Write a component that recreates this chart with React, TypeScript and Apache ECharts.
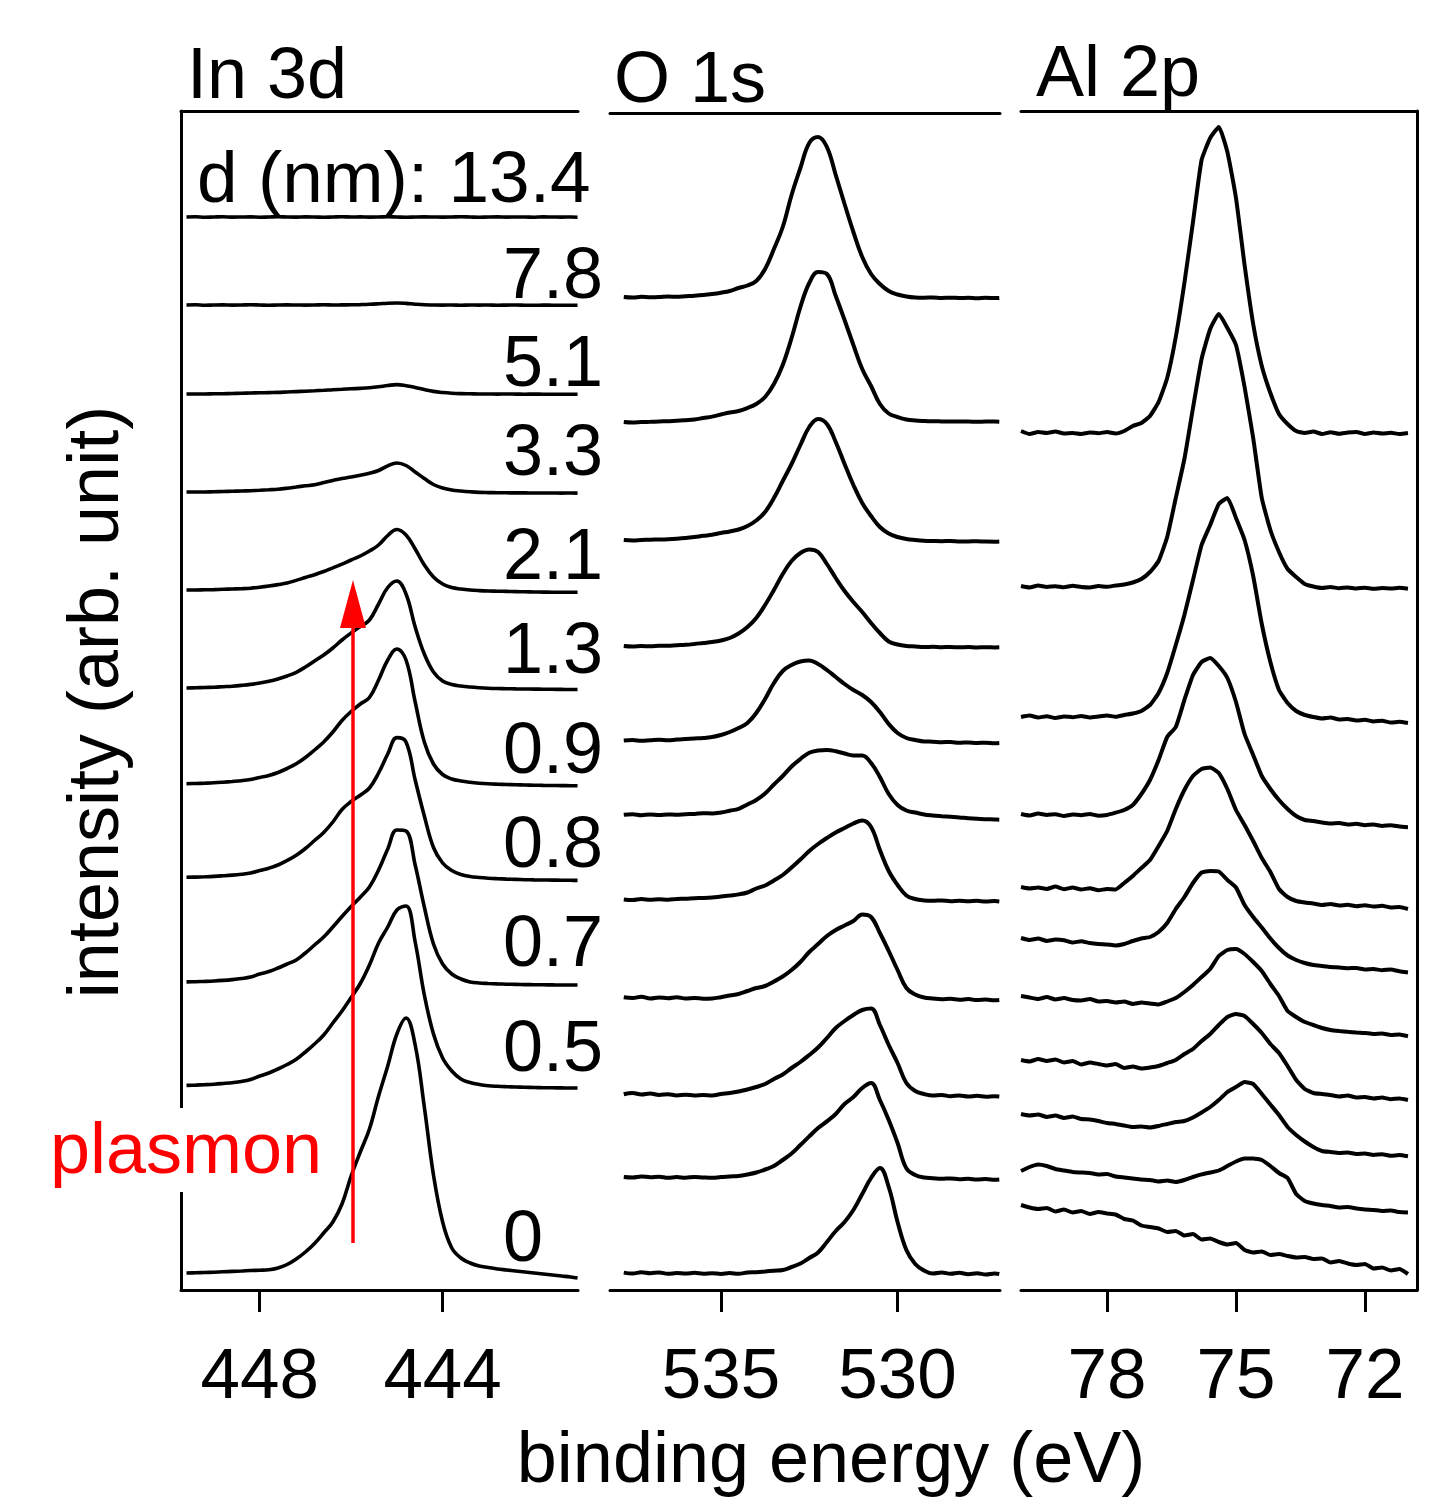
import React, { useEffect, useRef } from "react";
import * as echarts from "echarts";

const FONT = '"Liberation Sans", Arial, Helvetica, sans-serif';

// ---------- In 3d (binding energy, eV) ----------
const in3dEnergy = [
  449.6, 449.4, 449.2, 449.0, 448.8, 448.6, 448.4, 448.2, 448.0, 447.8, 447.6,
  447.4, 447.2, 447.0, 446.8, 446.6, 446.4, 446.2, 446.0, 445.8, 445.6, 445.4,
  445.2, 445.0, 444.8, 444.6, 444.4, 444.2, 444.0, 443.8, 443.6, 443.4, 443.2,
  443.0, 442.8, 442.6, 442.4, 442.2, 442.0, 441.8, 441.6, 441.4, 441.2, 441.05,
];
const in3d_13_4 = [
  1073, 1073.3, 1072.8, 1073, 1073.2, 1072.9, 1073, 1073.1, 1072.8, 1073, 1073.2,
  1073, 1072.9, 1073.1, 1073, 1072.8, 1073, 1073.2, 1073, 1073.1, 1072.9, 1073,
  1073.2, 1073, 1072.8, 1073, 1073.1, 1073, 1072.9, 1073, 1073.2, 1073, 1072.8,
  1073, 1073.1, 1072.9, 1073, 1073, 1072.8, 1073.1, 1073, 1072.9, 1073, 1072.8,
];
const in3d_7_8 = [
  985, 985.2, 984.8, 985, 985.1, 984.9, 985, 985.2, 985, 984.8, 985,
  985.1, 985, 984.9, 985, 985.2, 985, 985.1, 985.2, 985.4, 985.7, 986.2,
  986.8, 987, 986.6, 985.8, 985.2, 985, 984.9, 985, 984.8, 985, 984.9,
  985, 984.8, 984.9, 985, 984.8, 984.7, 984.9, 984.8, 984.7, 984.8, 984.7,
];
const in3d_5_1 = [
  896, 896, 896, 896.2, 896.3, 896.5, 896.7, 897, 897.2, 897.4, 897.6,
  898, 898.4, 898.8, 899.2, 899.7, 900.3, 900.7, 901.2, 901.6, 902.2, 903.2,
  904.5, 905.4, 904.3, 902.5, 900.4, 898.6, 897.5, 896.8, 896.4, 896.2, 896,
  896, 895.9, 896, 895.9, 895.8, 895.9, 895.8, 895.8, 895.7, 895.8, 895.7,
];
const in3d_3_3 = [
  798, 798, 798, 798.3, 798.5, 798.7, 799, 799.3, 799.7, 800.2, 800.8,
  801.8, 803, 804.2, 805.3, 807.5, 809.6, 811.5, 813, 814.8, 816.8, 819.5,
  824.2, 827, 824.5, 818, 811.5, 805.5, 802, 800, 799, 798.2, 797.6,
  797.4, 797.3, 797.2, 797.1, 797.1, 797, 797, 797, 796.9, 797, 796.9,
];
const in3d_2_1 = [
  700, 700, 700.2, 700.4, 700.7, 701, 701.3, 701.8, 702.8, 704, 705.4,
  707, 709.6, 712.5, 715.2, 718.5, 722.2, 725.8, 730, 734, 739, 745,
  754.5, 760.5, 755, 741, 725, 713, 706, 702.5, 701, 700, 699.4,
  699, 698.8, 698.6, 698.4, 698.2, 698, 697.9, 697.8, 697.8, 697.7, 697.7,
];
const in3d_1_3 = [
  602, 602.2, 602.5, 602.8, 603.3, 603.8, 604.6, 605.6, 607, 608.7, 611,
  614, 617.7, 623, 629, 635, 642, 650, 657, 663.5, 670, 686,
  702.5, 709, 696, 663, 636, 618, 609, 605.5, 604, 603, 602.3,
  601.8, 601.5, 601.3, 601.1, 601, 600.9, 600.8, 600.7, 600.6, 600.5, 600.5,
];
const in3d_0_9 = [
  506.3, 506.5, 506.8, 507.2, 507.8, 508.5, 509.3, 510.5, 512.5, 514.5, 517.5,
  521.5, 526.2, 532.5, 540, 548, 558, 569.5, 578.5, 586, 592.5, 610,
  630, 641, 630, 588, 548, 526, 515.5, 511, 509, 507.7, 506.8,
  506.2, 505.8, 505.5, 505.2, 505, 504.8, 504.6, 504.5, 504.4, 504.3, 504.2,
];
const in3d_0_8 = [
  412.7, 412.9, 413.2, 413.6, 414.2, 414.9, 415.8, 417, 419.4, 421.8, 425,
  429.5, 434.7, 441.5, 449.5, 457.5, 468, 480.5, 488.5, 494.8, 502, 517,
  536, 552.4, 548, 510, 474, 442.5, 427, 419.5, 415.5, 413.5, 412.5,
  411.8, 411.3, 410.9, 410.6, 410.3, 410.1, 410, 409.9, 409.8, 409.7, 409.6,
];
const in3d_0_7 = [
  308.1, 308.3, 308.6, 309, 309.6, 310.4, 311.5, 313, 316, 318.5, 322,
  326, 330, 337, 345, 353, 363, 373.5, 383.5, 392.8, 403, 420,
  441, 460, 459, 425, 383, 346, 326, 316, 311, 308.1, 307,
  306.5, 306.1, 305.8, 305.6, 305.4, 305.3, 305.2, 305.1, 305, 305, 305,
];
const in3d_0_5 = [
  204.6, 204.9, 205.3, 205.8, 206.5, 207.3, 208.5, 210.5, 214, 217, 221,
  225.5, 230.7, 238, 246, 255, 267, 279, 292.5, 306.5, 325, 347,
  363, 380, 384, 348, 295, 256, 232, 219, 211, 207.5, 205.5,
  204.3, 203.7, 203.3, 203, 202.7, 202.5, 202.3, 202.2, 202.1, 202, 202,
];
const in3d_0 = [
  17, 17.2, 17.5, 17.8, 18.2, 18.6, 19, 19.5, 19.8, 20.2, 22,
  25.5, 31, 38, 46.5, 57, 68, 86, 114, 138, 161, 194,
  224, 256, 272, 245, 183, 115, 68, 42, 32, 27, 24,
  22.5, 21, 20, 19, 18, 17, 16, 15, 14, 13, 12,
];

// ---------- O 1s ----------
const o1sEnergy = [
  537.75, 537.5, 537.25, 537.0, 536.75, 536.5, 536.25, 536.0, 535.75, 535.5, 535.25,
  535.0, 534.75, 534.5, 534.25, 534.0, 533.75, 533.5, 533.25, 533.0, 532.75, 532.5,
  532.25, 532.0, 531.75, 531.5, 531.25, 531.0, 530.75, 530.5, 530.25, 530.0, 529.75,
  529.5, 529.25, 529.0, 528.75, 528.5, 528.25, 528.0, 527.75, 527.5, 527.25, 527.12,
];
const o1s_13_4 = [
  993, 992.5, 993.2, 992.8, 993, 993.5, 993.2, 993.8, 994.3, 995, 996,
  997.3, 999, 1002, 1004.5, 1009, 1021, 1041, 1063, 1095, 1122, 1147,
  1153, 1143, 1115, 1086, 1058, 1033, 1016, 1006, 999, 995.5, 993.5,
  992.5, 992.3, 992.5, 992, 992.3, 992, 992.2, 991.8, 992.3, 991.9, 992.1,
];
const o1s_7_8 = [
  868, 867.5, 868, 868.2, 868.5, 868.8, 869.2, 869.8, 870.5, 872, 873.4,
  875.5, 877.5, 879, 882, 886, 893, 906, 925, 952, 983, 1007,
  1018, 1016, 994, 970, 945, 921, 904, 886, 876.5, 873, 870.5,
  869.5, 869, 868.7, 868.6, 868.5, 868.4, 868.4, 868.3, 868.4, 868.4, 868.3,
];
const o1s_5_1 = [
  750, 749.6, 750, 750.3, 750.5, 750.8, 751.3, 752, 753, 754.2, 755.2,
  757, 758.5, 760.5, 764, 769.5, 778, 792, 809, 826, 845, 863,
  871, 866, 848, 826, 805, 787, 774, 763, 756.5, 753, 751,
  750, 749.3, 749, 748.8, 749, 748.6, 748.5, 748.8, 748.4, 748.3, 748.5,
];
const o1s_3_3 = [
  644, 643.5, 644, 643.7, 644.2, 644.3, 644.8, 645.2, 646, 647, 648,
  649.5, 652, 656.5, 663, 672, 685, 700, 716, 729, 737, 740.5,
  738, 726, 712, 699, 688, 678, 667, 657, 648.5, 645.5, 644,
  643.5, 643, 643.2, 642.8, 643, 642.7, 642.9, 642.5, 642.8, 642.6, 642.7,
];
const o1s_2_1 = [
  549.5, 550, 549.2, 549.8, 550.3, 549.7, 550.5, 551, 551.5, 552, 553,
  555, 558, 562, 567, 577, 591, 607, 619, 625, 628.5, 629.5,
  626, 620, 613, 606, 600, 595, 588, 578, 566, 557, 552,
  550, 548.5, 548.3, 547.8, 548, 547.2, 547.6, 547, 547.3, 546.8, 547,
];
const o1s_1_3 = [
  475.3, 475.8, 474.8, 475.5, 475, 475.6, 475.2, 475.8, 476, 476.8, 476.5,
  477.5, 479.3, 481.2, 485.5, 490, 496.5, 505.5, 514, 523.5, 531, 537.3,
  539.5, 540, 538.8, 536.5, 534.6, 534.5, 527, 513, 496, 485, 479.5,
  477.5, 475.5, 474.5, 473.8, 473.2, 472.6, 471.8, 471.2, 470.8, 470.5, 470.3,
];
const o1s_0_9 = [
  390.6, 390, 391, 390.2, 390.8, 390.3, 391, 391.3, 391.8, 392, 392.5,
  393.5, 394.5, 395.6, 397.5, 401.5, 404.5, 409.5, 415, 422.5, 430.5, 439,
  446, 452, 457.5, 462, 466.5, 469.5, 463, 440, 419, 405, 394.5,
  391, 389.6, 389.2, 389.6, 388.8, 389.3, 388.7, 389.2, 388.5, 388.9, 388.6,
];
const o1s_0_8 = [
  292.8, 292, 293.3, 291.5, 292.5, 291.8, 292.8, 291.4, 292, 291.3, 291.5,
  292.8, 294.5, 296, 299, 302, 304, 308.5, 313.5, 320, 328, 338,
  346, 354, 360, 364.5, 369, 375.6, 373, 357, 339, 320, 302,
  295.5, 292.5, 291.5, 290.8, 291.2, 290.3, 290.9, 289.9, 290.4, 289.8, 290.1,
];
const o1s_0_7 = [
  195.7, 197, 195.5, 196.5, 195, 195.8, 194.6, 195.3, 194.5, 195, 194.5,
  196, 197, 198.5, 200.5, 203, 206, 211, 215.5, 222, 228, 235,
  242.5, 252, 262, 269, 275, 280, 281.5, 265, 245, 227, 207,
  199, 196, 194.5, 195, 193.8, 194.5, 193.5, 194.2, 193.3, 193.8, 193.5,
];
const o1s_0_5 = [
  113, 112.5, 113.5, 112.8, 113.3, 112.2, 112.9, 112.3, 113, 112.5, 112.2,
  113, 113.5, 114, 115.5, 117.5, 120.5, 124, 130, 136.5, 145, 153.6,
  162, 168.6, 176, 186, 193, 202, 207, 190, 170, 147, 121.6,
  115, 112.5, 111.8, 111.2, 111.6, 110.8, 111.2, 110.4, 110.9, 110.3, 110.6,
];
const o1s_0 = [
  17.4, 16.5, 17.8, 16.8, 17.5, 16.2, 17, 16.4, 17.2, 16.3, 16.8,
  16, 16.9, 16.2, 17.5, 17.8, 18.5, 19.3, 20, 23, 26.5, 32,
  37.5, 48, 59, 68, 80, 96, 112, 122, 103, 68, 40,
  26, 19.5, 16.5, 17.5, 16.2, 17.2, 15.8, 16.7, 15.5, 16.5, 16,
];

// ---------- Al 2p ----------
const al2pEnergy = [
  80.0, 79.8, 79.6, 79.4, 79.2, 79.0, 78.8, 78.6, 78.4, 78.2, 78.0,
  77.8, 77.6, 77.4, 77.2, 77.0, 76.8, 76.6, 76.4, 76.2, 76.0, 75.8,
  75.6, 75.4, 75.2, 75.0, 74.8, 74.6, 74.4, 74.2, 74.0, 73.8, 73.6,
  73.4, 73.2, 73.0, 72.8, 72.6, 72.4, 72.2, 72.0, 71.8, 71.6, 71.4, 71.2, 71.0,
];
const al2p_13_4 = [
  859, 856, 858, 857, 858.5, 856.5, 857, 856, 857.5, 856.8, 858,
  856.5, 859, 864, 867, 874, 888, 912, 953, 1007, 1068, 1130,
  1152, 1163, 1138, 1092, 1025, 966, 924, 897, 876, 866, 859,
  857, 858.5, 856, 857.8, 856.2, 857.5, 858, 856, 857.5, 856.5, 857.2, 856, 857,
];
const al2p_7_8 = [
  704, 702.5, 704.5, 703, 703.8, 702.7, 704.2, 703, 702.5, 704, 703.2,
  704.5, 705.5, 707.5, 711, 718, 729, 753, 792, 831, 882, 931,
  961, 976, 962, 945, 903, 852, 792, 760, 738, 721, 713,
  706, 703.5, 702, 703, 701.8, 702.6, 701.5, 702.3, 701.2, 702, 701.5, 702.2, 701.3,
];
const al2p_5_1 = [
  573, 574.5, 572.5, 573.8, 572, 573.5, 572.8, 574, 572.5, 573.5, 574.5,
  573.2, 575, 576.5, 579, 585, 597, 617, 645, 675, 710, 745,
  765, 786, 792, 772, 750, 714, 666, 628, 600, 587, 579,
  575, 573, 571.5, 572.5, 570.5, 571, 569.5, 570.2, 568.5, 569.3, 567.5, 568.2, 567,
];
const al2p_3_3 = [
  476, 474.5, 476.5, 475, 475.8, 474, 475.5, 474.8, 476, 474.3, 475,
  477.3, 480, 485, 496, 510, 530, 553, 563, 590, 615, 628,
  632, 624, 612, 588, 556, 535, 514, 501, 490, 481, 474,
  470, 469, 467.5, 466.5, 467, 465.5, 466.2, 464.8, 465.5, 464, 464.8, 463.5, 462.8,
];
const al2p_2_1 = [
  403, 401.5, 402.5, 401, 403.5, 400.8, 402.5, 400.5, 401.8, 399.8, 401,
  400.5, 407, 414, 422, 430, 444, 459, 481, 500, 514, 521,
  522.5, 517, 501, 480, 465, 449, 432, 418, 401, 393, 389,
  387.5, 386.5, 385, 386, 384.5, 385.2, 383.8, 384.8, 383.5, 384.2, 382.5, 383, 381,
];
const al2p_1_3 = [
  352, 350, 351.5, 349, 350.5, 349.8, 347.5, 348.8, 347, 346, 345.5,
  344.5, 346, 349, 351.5, 353, 358, 367, 381, 393, 407, 417.5,
  419, 418.5, 410, 402.5, 385, 373, 362.5, 351.5, 342, 334.5, 330,
  327, 325, 324, 323, 322.5, 321.8, 322, 320.5, 321, 319.8, 320.5, 318.8, 317.5,
];
const al2p_0_9 = [
  294, 292.5, 291, 293, 290.5, 292, 290, 289.5, 291, 288.5, 289,
  287.5, 288.5, 286, 287.5, 286.5, 285.5, 288.5, 292, 298, 305, 313,
  321, 334, 340, 341, 336, 328, 319, 306, 294, 279, 273,
  268, 265, 262, 260, 259, 258.2, 257.5, 257, 256, 256.5, 255, 255.5, 253.8,
];
const al2p_0_8 = [
  230, 228.5, 231, 229, 230.5, 227.5, 229, 225.5, 227.5, 226, 224.5,
  226, 222, 223.5, 221.5, 222.5, 224, 227, 230, 236, 241, 249,
  256, 265, 273, 276, 274, 266, 257, 246, 237, 224, 210,
  201, 197, 196, 195, 193.5, 194.5, 192.5, 193, 191.5, 192.5, 190.8, 191.5, 190,
];
const al2p_0_7 = [
  176, 174.5, 175.5, 173, 174.5, 172, 173.5, 171, 170.5, 169, 167,
  166, 164.5, 163, 163.5, 162.5, 164, 166, 168, 169, 172.5, 177.5,
  183, 190, 198, 203, 208, 206, 196, 185.5, 175, 163, 155,
  148.5, 143, 139, 138, 137, 137.5, 136, 136.5, 135, 135.8, 134.2, 135, 133.8,
];
const al2p_0_5 = [
  119, 123, 125.5, 124, 121, 119.5, 118, 117.5, 117, 115.5, 116,
  113.5, 112.5, 111.5, 110.5, 110, 108.5, 109.5, 108, 110, 113, 115.6,
  117.5, 119.5, 124, 128.5, 131.5, 131.5, 130, 124, 117, 112, 96,
  89, 86.5, 85, 84, 82.5, 83, 81.5, 80.5, 80, 79, 79.5, 78, 77.5,
];
const al2p_0 = [
  85, 82.5, 81, 82, 78.5, 80.5, 77.5, 79, 76, 78, 76.5,
  75.5, 71, 69.5, 64.5, 63, 61.5, 58, 59, 54.5, 56, 50.5,
  51.5, 48, 45.5, 47, 40, 37.5, 38.5, 35, 36, 34, 32.5,
  33, 31, 31.5, 27.5, 29, 26.5, 25, 26, 21.5, 22.5, 19.5, 21, 16,
];

const thicknessLabels = ["7.8", "5.1", "3.3", "2.1", "1.3", "0.9", "0.8", "0.7", "0.5", "0"];
const thicknessLabelY = [273, 361, 450, 554, 648, 748, 842, 941, 1046, 1236];

const in3dTicks = [448, 444];
const o1sTicks = [535, 530];
const al2pTicks = [78, 75, 72];

const in3dSpectra = [in3d_13_4, in3d_7_8, in3d_5_1, in3d_3_3, in3d_2_1, in3d_1_3, in3d_0_9, in3d_0_8, in3d_0_7, in3d_0_5, in3d_0];
const o1sSpectra = [o1s_13_4, o1s_7_8, o1s_5_1, o1s_3_3, o1s_2_1, o1s_1_3, o1s_0_9, o1s_0_8, o1s_0_7, o1s_0_5, o1s_0];
const al2pSpectra = [al2p_13_4, al2p_7_8, al2p_5_1, al2p_3_3, al2p_2_1, al2p_1_3, al2p_0_9, al2p_0_8, al2p_0_7, al2p_0_5, al2p_0];

// plasmon arrow (energy, intensity start, intensity end)
const plasmonArrow = { energy: 445.96, from: 47, to: 686 };

export default function App() {
  const ref = useRef<HTMLDivElement>(null);

  useEffect(() => {
    if (!ref.current) return;
    const chart = echarts.init(ref.current, null, { renderer: "svg" });
    const pair = (xs: number[], ys: number[]) => xs.map((x, i) => [x, ys[i]]);
    const black = "#000";

    const series: any[] = [];
    in3dSpectra.forEach((s, k) => {
      const ser: any = {
        type: "line", xAxisIndex: 0, yAxisIndex: 0, data: pair(in3dEnergy, s),
        showSymbol: false, symbol: "none", smooth: 0.4, silent: true,
        lineStyle: { color: black, width: 3.6 },
        emphasis: { disabled: true },
      };
      if (k === in3dSpectra.length - 1) {
        ser.markLine = {
          silent: true, symbol: ["none", "triangle"], symbolSize: [26, 48],
          label: { show: false },
          lineStyle: { color: "#ff0000", width: 3.5, type: "solid" },
          data: [[{ coord: [plasmonArrow.energy, plasmonArrow.from] }, { coord: [plasmonArrow.energy, plasmonArrow.to] }]],
        };
      }
      series.push(ser);
    });
    o1sSpectra.forEach((s) => series.push({
      type: "line", xAxisIndex: 2, yAxisIndex: 1, data: pair(o1sEnergy, s),
      showSymbol: false, symbol: "none", smooth: 0.4, silent: true,
      lineStyle: { color: black, width: 4 },
      emphasis: { disabled: true },
    }));
    al2pSpectra.forEach((s) => series.push({
      type: "line", xAxisIndex: 4, yAxisIndex: 2, data: pair(al2pEnergy, s),
      showSymbol: false, symbol: "none", smooth: 0.15, silent: true,
      lineStyle: { color: black, width: 4 },
      emphasis: { disabled: true },
    }));

    const axisLine = { show: true, onZero: false, lineStyle: { color: black, width: 3 } };
    const bottomAxis = (grid: number, min: number, max: number, ticks: number[]) => ({
      gridIndex: grid, type: "value", inverse: true, min, max, position: "bottom",
      axisLine,
      axisTick: { show: true, customValues: ticks, length: 22, inside: false, lineStyle: { color: black, width: 3 } },
      axisLabel: { show: true, customValues: ticks, fontSize: 71, margin: 48, color: black, fontFamily: FONT },
      splitLine: { show: false },
    });
    const topAxis = (grid: number, min: number, max: number, offset = 0) => ({
      gridIndex: grid, type: "value", inverse: true, min, max, position: "top", offset,
      axisLine, axisTick: { show: false }, axisLabel: { show: false }, splitLine: { show: false },
    });
    const yAx = (grid: number, show: boolean, position: string) => ({
      gridIndex: grid, type: "value", min: 0, max: 1179, position,
      axisLine: { ...axisLine, show }, axisTick: { show: false }, axisLabel: { show: false }, splitLine: { show: false },
    });

    const txt = (text: string, x: number, y: number, extra: any = {}) => ({
      type: "text", x, y, z: 60, silent: true,
      style: {
        text, fill: black, font: `72px ${FONT}`,
        textAlign: "left", textVerticalAlign: "middle", ...extra,
      },
    });

    const graphic: any[] = [
      { type: "rect", z: 50, silent: true, shape: { x: 168, y: 1108, width: 22, height: 84 }, style: { fill: "#fff" } },
      txt("plasmon", 50, 1148, { fill: "#ff0000" }),
      txt("In 3d", 187, 73),
      txt("O 1s", 614, 77),
      txt("Al 2p", 1036, 71),
      txt("d (nm): 13.4", 197, 176, { font: `73px ${FONT}` }),
      txt("binding energy (eV)", 831, 1457, { textAlign: "center" }),
      { type: "text", x: 93, y: 702, rotation: Math.PI / 2, z: 60, silent: true,
        style: { text: "intensity (arb. unit)", fill: black, font: `72px ${FONT}`, textAlign: "center", textVerticalAlign: "middle" } },
    ];
    thicknessLabels.forEach((t, i) => graphic.push(txt(t, 503, thicknessLabelY[i])));

    chart.setOption({
      animation: false,
      backgroundColor: "#fff",
      textStyle: { fontFamily: FONT },
      grid: [
        { left: 181, top: 111, width: 397, height: 1179, containLabel: false },
        { left: 610, top: 111, width: 390, height: 1179, containLabel: false },
        { left: 1021, top: 111, width: 396, height: 1179, containLabel: false },
      ],
      xAxis: [
        bottomAxis(0, 441.04, 449.72, in3dTicks),
        topAxis(0, 441.04, 449.72),
        bottomAxis(1, 527.1, 538.14, o1sTicks),
        topAxis(1, 527.1, 538.14, -2),
        bottomAxis(2, 70.79, 80.0, al2pTicks),
        topAxis(2, 70.79, 80.0),
      ],
      yAxis: [yAx(0, true, "left"), yAx(1, false, "left"), yAx(2, true, "right")],
      series,
      graphic,
    });

    return () => chart.dispose();
  }, []);

  return (
    <div
      ref={ref}
      style={{ position: "absolute", left: 0, top: 0, width: 1451, height: 1504, background: "#fff" }}
    />
  );
}
